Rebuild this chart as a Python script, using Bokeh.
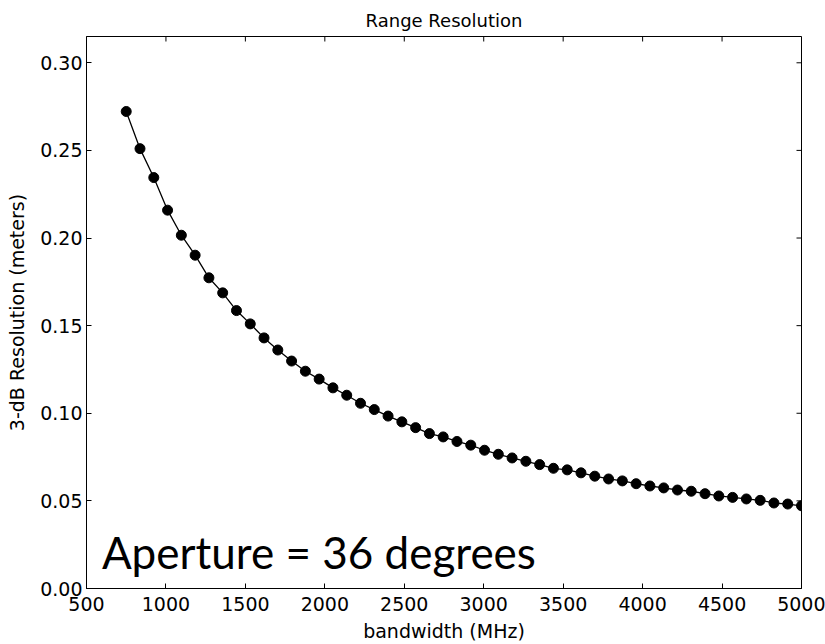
import math
from bokeh.plotting import figure
from bokeh.models import FixedTicker, NumeralTickFormatter, Label, Range1d
from bokeh.embed import file_html
from bokeh.resources import INLINE

# bandwidth (MHz)
bandwidth = [750.0, 836.7, 923.5, 1010.2, 1096.9, 1183.7, 1270.4, 1357.1, 1443.9, 1530.6,
             1617.3, 1704.1, 1790.8, 1877.6, 1964.3, 2051.0, 2137.8, 2224.5, 2311.2, 2398.0,
             2484.7, 2571.4, 2658.2, 2744.9, 2831.6, 2918.4, 3005.1, 3091.8, 3178.6, 3265.3,
             3352.0, 3438.8, 3525.5, 3612.2, 3699.0, 3785.7, 3872.4, 3959.2, 4045.9, 4132.7,
             4219.4, 4306.1, 4392.9, 4479.6, 4566.3, 4653.1, 4739.8, 4826.5, 4913.3, 5000.0]
# 3-dB resolution (meters)
resolution = [0.2722, 0.2510, 0.2345, 0.2159, 0.2016, 0.1902, 0.1773, 0.1687, 0.1586, 0.1510,
              0.1430, 0.1361, 0.1298, 0.1240, 0.1195, 0.1145, 0.1103, 0.1057, 0.1021, 0.0984,
              0.0951, 0.0918, 0.0884, 0.0865, 0.0839, 0.0818, 0.0789, 0.0766, 0.0745, 0.0726,
              0.0707, 0.0686, 0.0677, 0.0660, 0.0641, 0.0625, 0.0614, 0.0598, 0.0585, 0.0574,
              0.0562, 0.0555, 0.0541, 0.0528, 0.0520, 0.0511, 0.0503, 0.0488, 0.0482, 0.0472]

x_ticks = [500, 1000, 1500, 2000, 2500, 3000, 3500, 4000, 4500, 5000]
y_ticks = [0.00, 0.05, 0.10, 0.15, 0.20, 0.25, 0.30]
x_min, x_max = 500, 5000
y_min, y_max = 0.0, 0.315

title_text = "Range Resolution"
x_label = "bandwidth (MHz)"
y_label = "3-dB Resolution (meters)"
note_text = "Aperture = 36 degrees"

FONT = "DejaVu Sans"

p = figure(width=825, height=644, output_backend="svg", toolbar_location=None,
           x_range=Range1d(x_min, x_max), y_range=Range1d(y_min, y_max),
           min_border_left=86, min_border_right=24, min_border_top=36, min_border_bottom=55,
           title=title_text)
p.background_fill_color = "white"
p.border_fill_color = "white"
p.outline_line_color = "black"
p.outline_line_width = 1
p.xgrid.visible = False
p.ygrid.visible = False

p.title.align = "center"
p.title.text_font = FONT
p.title.text_font_size = "18px"
p.title.text_font_style = "normal"
p.title.text_color = "black"
p.title.standoff = 12

for ax in p.xaxis:
    ax.ticker = FixedTicker(ticks=x_ticks)
    ax.axis_label = x_label
    ax.major_label_standoff = 8
    ax.axis_label_standoff = 6
for ax in p.yaxis:
    ax.ticker = FixedTicker(ticks=y_ticks)
    ax.formatter = NumeralTickFormatter(format="0.00")
    ax.axis_label = y_label
    ax.major_label_standoff = 4
    ax.axis_label_standoff = 9

for ax in list(p.xaxis) + list(p.yaxis):
    ax.major_tick_in = 5
    ax.major_tick_out = 0
    ax.minor_tick_line_color = None
    ax.major_label_text_font = FONT
    ax.major_label_text_font_size = "19px"
    ax.major_label_text_color = "black"
    ax.axis_label_text_font = FONT
    ax.axis_label_text_font_size = "19px"
    ax.axis_label_text_font_style = "normal"
    ax.axis_label_text_color = "black"
    ax.axis_line_color = "black"
    ax.major_tick_line_color = "black"

# inward ticks on the top and right edges (matplotlib classic style)
p.ray(x=x_ticks, y=[y_max] * len(x_ticks), length=5, length_units="screen",
      angle=-math.pi / 2, line_color="black", line_width=1)
p.ray(x=[x_max] * len(y_ticks), y=y_ticks, length=5, length_units="screen",
      angle=math.pi, line_color="black", line_width=1)

p.line(bandwidth, resolution, line_color="black", line_width=1.3)
p.scatter(bandwidth, resolution, size=10, fill_color="black", line_color="black")

note = Label(x=597, y=0.021, text=note_text, text_font="Lato", text_font_size="44px",
             text_color="black", text_baseline="alphabetic")
p.add_layout(note)

open("out.html", "w").write(file_html(p, INLINE))
